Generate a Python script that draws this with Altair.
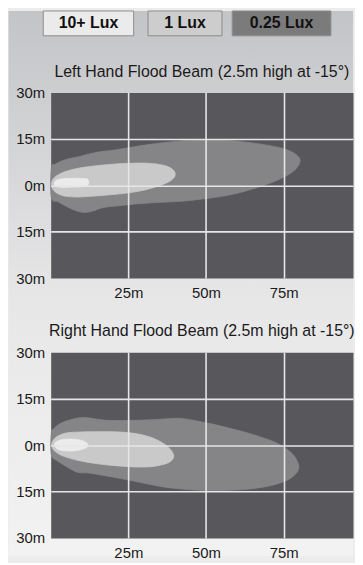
import altair as alt
import pandas as pd

# ---------------- data ----------------
LEGEND_LABELS = ["10+ Lux", "1 Lux", "0.25 Lux"]

LEFT_TITLE = "Left Hand Flood Beam (2.5m high at -15°)"
RIGHT_TITLE = "Right Hand Flood Beam (2.5m high at -15°)"

X_TICKS = [25, 50, 75]
Y_TICKS = [-30, -15, 0, 15, 30]

# Left hand beam contours (metres: forward distance x, lateral offset y)
LEFT_025_X = [0.2, 1.5, 3.5, 6, 9, 12, 16, 20, 25, 30, 36, 42, 48, 54, 60, 66, 71, 75, 78, 79.8,
              80.3, 79.4, 77.5, 75, 72, 69, 65, 60, 55, 50, 45, 40, 34, 28, 22, 17, 14, 11, 8, 5, 2.5, 0.2]
LEFT_025_Y = [5.5, 6.8, 7.8, 8.6, 9.2, 10.0, 10.8, 11.3, 12.1, 12.9, 13.7, 14.3, 14.7, 14.6, 14.2, 13.5, 12.7, 11.8, 10.6, 9.2,
              7.8, 5.8, 4.0, 2.6, 1.2, 0.1, -1.2, -2.6, -3.6, -4.3, -4.9, -5.3, -5.6, -6.0, -6.6, -7.2, -8.2, -8.8, -8.2, -6.8, -5.4, -4.0]

LEFT_1_X = [0.3, 1.0, 2.5, 5, 9, 14, 20, 26, 31, 35, 38, 39.8, 40.0, 38.8, 36.5, 33, 29, 24, 19, 14, 9, 5, 2.5, 0.9, 0.3]
LEFT_1_Y = [1.0, 2.3, 3.4, 4.5, 5.5, 6.2, 6.8, 7.1, 7.1, 6.7, 5.9, 4.5, 3.0, 1.6, 0.4, -0.8, -1.8, -2.6, -3.1, -3.5, -3.8, -3.6, -2.8, -1.6, -0.3]

LEFT_10_X = [1.2, 2.0, 4, 7, 10, 11.8, 12.2, 11.8, 10, 7, 4, 2, 1.2]
LEFT_10_Y = [0.8, 1.7, 2.1, 2.2, 2.2, 2.0, 1.0, -0.1, -0.5, -0.6, -0.7, -0.5, 0.0]

# Right hand beam contours
RIGHT_025_X = [0.2, 1.2, 3, 5.5, 8.5, 11, 14, 18, 23, 28, 33, 38, 42, 47, 52, 57, 62, 67, 71.5, 75, 77.8, 79.4,
               79.9, 79, 77, 74, 70, 64, 58, 52, 46, 40, 35, 29, 23, 17, 12, 9, 6.5, 4, 2, 0.2]
RIGHT_025_Y = [3.8, 5.5, 6.9, 7.9, 8.7, 8.9, 8.5, 8.0, 7.9, 8.0, 8.2, 8.5, 8.6, 7.8, 6.8, 5.6, 4.3, 2.8, 1.2, -0.6, -2.8, -5.2,
               -7.4, -9.2, -10.9, -12.2, -13.3, -14.2, -14.6, -14.7, -14.5, -14.0, -13.3, -12.1, -10.9, -9.8, -9.0, -8.9, -7.8, -6.3, -5.0, -3.2]

RIGHT_1_X = [0.3, 1.0, 2.5, 5, 9, 14, 20, 25, 29, 32.5, 35.5, 37.8, 39.2, 39.6, 38.6, 36.5, 33, 29, 24, 19, 14, 9, 5, 2.5, 0.8]
RIGHT_1_Y = [0.3, 1.8, 3.0, 3.9, 4.2, 4.3, 4.3, 4.0, 3.4, 2.4, 1.0, -0.6, -2.3, -3.9, -5.3, -6.2, -6.9, -7.1, -6.9, -6.5, -5.9, -5.0, -3.9, -2.8, -1.4]

RIGHT_10_X = [1.2, 2.3, 4.5, 7.5, 10, 11.8, 11.8, 10, 7, 4, 2]
RIGHT_10_Y = [0.4, 1.3, 1.9, 1.9, 1.5, 0.5, -0.6, -1.4, -1.9, -1.8, -1.2]

# ---------------- style ----------------
FONT = "Liberation Sans"
LEVEL_FILLS = ["#ebebeb", "#c9c9c9", "#858587"]   # 10+, 1, 0.25 lux
LEGEND_FILLS = ["#ebebeb", "#cdcdcd", "#7b7b7c"]
PLOT_BG = "#58585c"
GRID = "#e6e6e8"
W, H = 304.5, 187
X_MAX = 97.35


def contour_df(xs, ys):
    return pd.DataFrame({"x": xs, "y": ys, "i": list(range(len(xs)))})


x_axis = alt.Axis(values=X_TICKS, labelExpr="datum.value + 'm'", grid=True, gridColor=GRID,
                  gridWidth=1.6, ticks=False, domain=False, labelFontSize=15, labelFont=FONT,
                  labelColor="#1a1a1a", labelPadding=8, labelFlush=False, title=None, zindex=1)
y_axis = alt.Axis(values=Y_TICKS, labelExpr="abs(datum.value) + 'm'", grid=True, gridColor=GRID,
                  gridWidth=1.6,
                  gridOpacity={"condition": {"test": "abs(datum.value) >= 30", "value": 0}, "value": 1},
                  ticks=False, domain=False, labelFontSize=15, labelFont=FONT, labelColor="#1a1a1a",
                  labelPadding=6, labelBaseline="middle", title=None, zindex=1)
x_scale = alt.Scale(domain=[0, X_MAX], nice=False, zero=False)
y_scale = alt.Scale(domain=[-30, 30], nice=False, zero=False)


def panel(title, contours):
    layers = []
    # draw outer (0.25 lux) first, inner (10+ lux) last
    for (xs, ys), col in zip(contours, [LEVEL_FILLS[2], LEVEL_FILLS[1], LEVEL_FILLS[0]]):
        layers.append(
            alt.Chart(contour_df(xs, ys))
            .mark_line(fill=col, stroke=col, strokeWidth=0.8, interpolate="cardinal-closed")
            .encode(
                x=alt.X("x:Q", scale=x_scale, axis=x_axis),
                y=alt.Y("y:Q", scale=y_scale, axis=y_axis),
                order=alt.Order("i:Q"),
            )
        )
    return alt.layer(*layers).properties(
        width=W, height=H,
        title=alt.TitleParams(title, fontSize=16, font=FONT, fontWeight="normal", color="#1a1a1a",
                              anchor="middle", frame="group", offset=6),
        view=alt.ViewBackground(fill=PLOT_BG, strokeOpacity=0),
    )


p1 = panel(LEFT_TITLE, [(LEFT_025_X, LEFT_025_Y), (LEFT_1_X, LEFT_1_Y), (LEFT_10_X, LEFT_10_Y)])
p2 = panel(RIGHT_TITLE, [(RIGHT_025_X, RIGHT_025_Y), (RIGHT_1_X, RIGHT_1_Y), (RIGHT_10_X, RIGHT_10_Y)])

# ---------------- legend + page background ----------------
legend_df = pd.DataFrame({"label": LEGEND_LABELS})
lx = alt.X("label:N", sort=LEGEND_LABELS,
           scale=alt.Scale(range=[-10.6, 281.15], paddingInner=0, paddingOuter=0), axis=None)

bg = alt.Chart(pd.DataFrame({"a": [0]})).mark_rect(
    fill=alt.Gradient(gradient="linear",
                      stops=[alt.GradientStop(color="#c3c4c7", offset=0),
                             alt.GradientStop(color="#e7e7e8", offset=0.53),
                             alt.GradientStop(color="#f2f2f2", offset=1)],
                      x1=0, x2=0, y1=0, y2=1)
).encode(x=alt.value(-42.5), x2=alt.value(304.5), y=alt.value(0), y2=alt.value(549))

boxes = alt.Chart(legend_df).transform_calculate(
    w="8.3 * length(datum.label) + 33", one="1"
).mark_bar(stroke="#8c8c8c", strokeWidth=1, orient="vertical").encode(
    x=lx,
    y=alt.Y("one:Q", scale=alt.Scale(domain=[0, 1], nice=False), axis=None),
    size=alt.Size("w:Q", scale=None),
    fill=alt.Fill("label:N", sort=LEGEND_LABELS,
                  scale=alt.Scale(domain=LEGEND_LABELS, range=LEGEND_FILLS), legend=None),
)

texts = alt.Chart(legend_df).mark_text(
    fontSize=16, fontWeight="bold", font=FONT, color="#111111", baseline="middle"
).encode(x=lx, y=alt.value(12.5), text="label:N")

legend = alt.layer(bg, boxes, texts).properties(width=W, height=25,
                                                 view=alt.ViewBackground(strokeOpacity=0))

inner = alt.vconcat(p1, p2, spacing=74.7, bounds="flush")
chart = alt.vconcat(legend, inner, spacing=57, bounds="flush").resolve_scale(
    x="independent", y="independent", fill="independent"
).properties(padding=0, background="#ececec")

chart.save("out.html", embed_options={"renderer": "svg", "actions": False})
